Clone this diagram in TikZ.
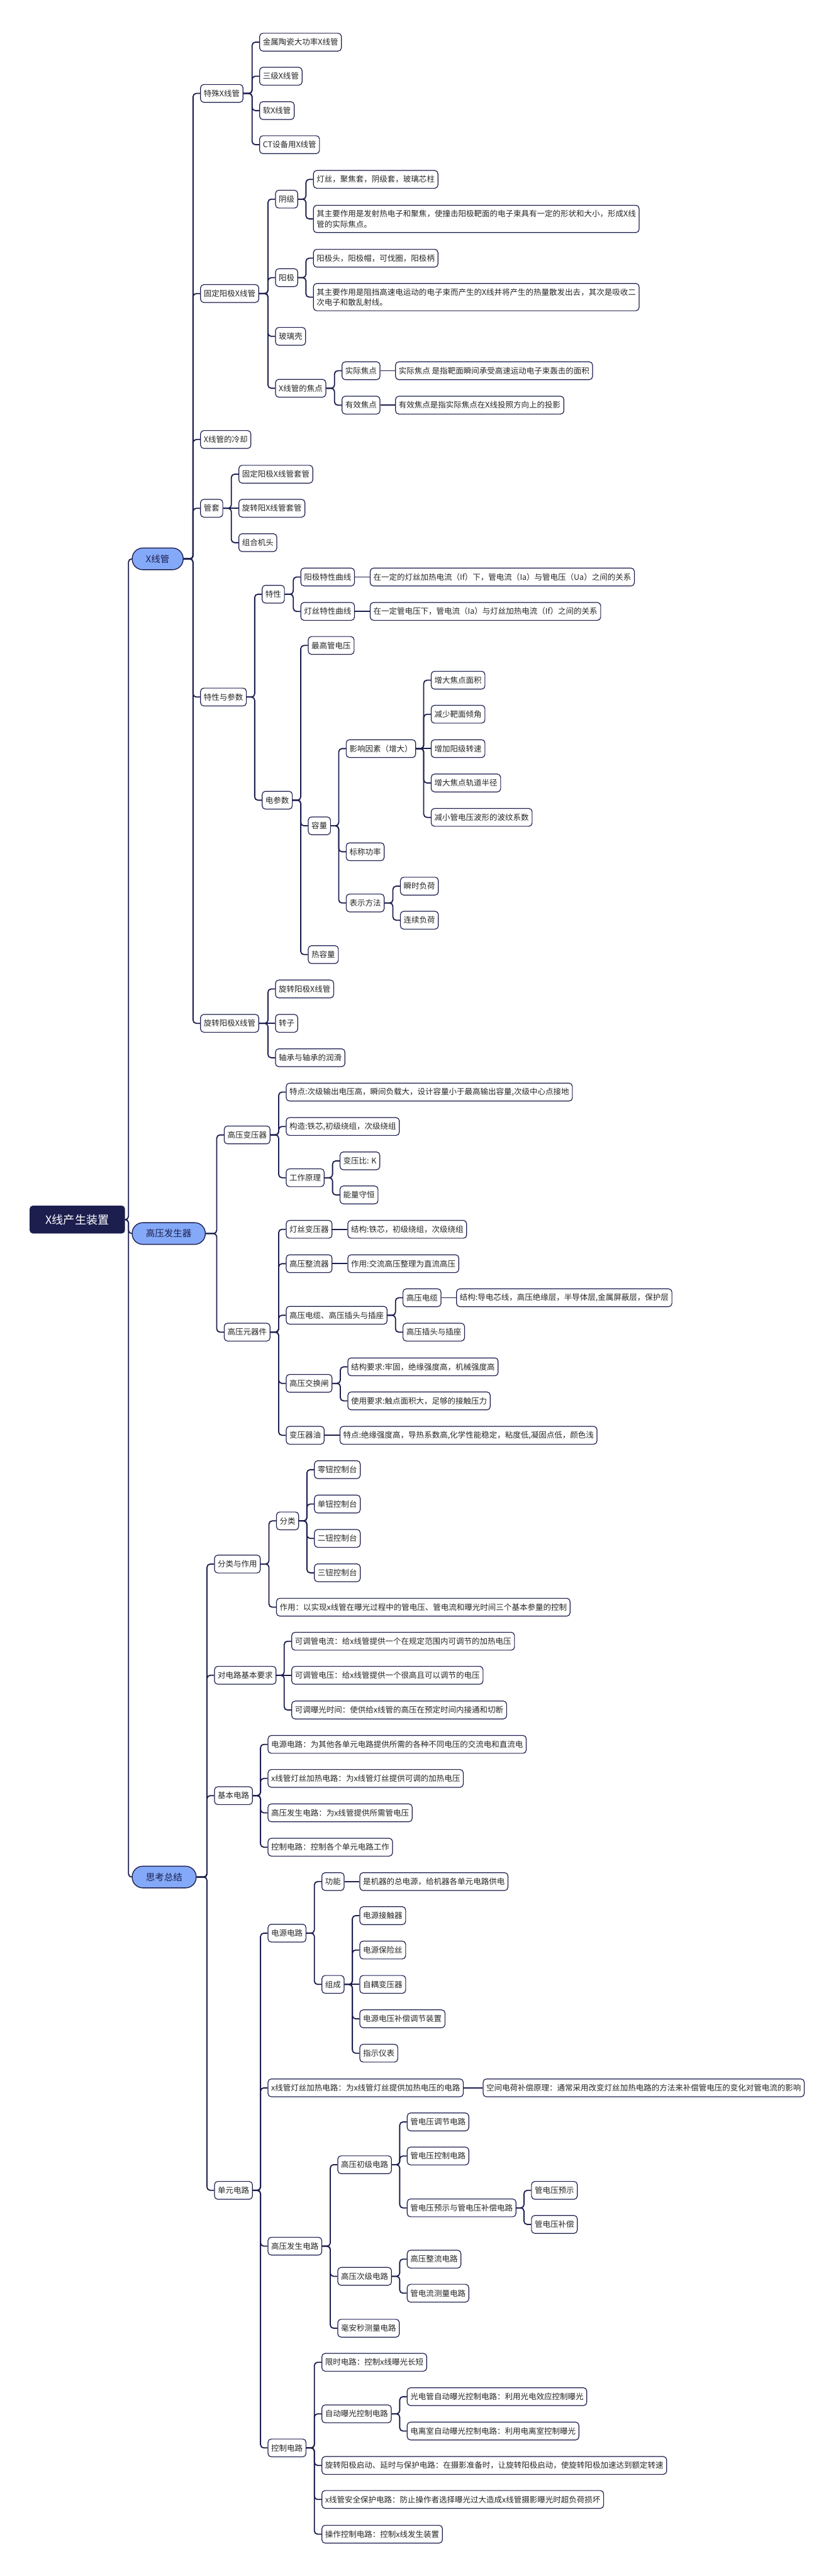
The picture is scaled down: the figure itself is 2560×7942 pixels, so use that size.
\documentclass[tikz,border=0pt]{standalone}
\usepackage{fontspec}
\setmainfont{Noto Sans CJK SC}
\usepackage{xcolor}
\usetikzlibrary{calc}
\definecolor{navy}{HTML}{1C1E4E}
\definecolor{pillblue}{HTML}{84A9F8}

\begin{document}
\begin{tikzpicture}[
  x=0.02cm, y=-0.02cm,
  font=\fontsize{13.8}{18}\selectfont,
  box/.style={rectangle, draw=navy, line width=1.3pt, rounded corners=0.2cm, fill=white,
              anchor=west, minimum height=1.1cm, inner xsep=0.2cm, text=black!85},
  pill/.style={rectangle, draw=navy, line width=1.5pt, rounded corners=0.66cm, fill=pillblue,
               anchor=west, minimum height=1.34cm, inner xsep=0.85cm, text=navy,
               font=\fontsize{16}{18}\selectfont},
  rootbox/.style={rectangle, rounded corners=0.2cm, fill=navy, text=white, anchor=west,
                  minimum width=5.88cm, minimum height=1.72cm, font=\fontsize{20}{22}\selectfont},
  link/.style={draw=navy, line width=2pt, rounded corners=0.2cm}
]
\fill[white] (0,0) rectangle (2560,7942);
\useasboundingbox (0,0) rectangle (2560,7942);

% Root and main branches
\node[rootbox] (xcs) at (91,3760) {X线产生装置};
\node[pill] (xg)   at (406,1723) {X线管};
\node[pill] (gyq)  at (406,3803) {高压发生器};
\node[pill] (skzj) at (406,5787) {思考总结};

% X线管
\node[box] (tsx) at (617,288)  {特殊X线管};
\node[box] (gdx) at (617,905)  {固定阳极X线管};
\node[box] (lq)  at (617,1355) {X线管的冷却};
\node[box] (gt)  at (617,1567) {管套};
\node[box] (tcs) at (617,2149) {特性与参数};
\node[box] (xzx) at (617,3155) {旋转阳极X线管};

\node[box] (jstc) at (799,130) {金属陶瓷大功率X线管};
\node[box] (sjx)  at (799,235) {三级X线管};
\node[box] (rx)   at (799,341) {软X线管};
\node[box] (ctx)  at (799,446) {CT设备用X线管};

\node[box] (yinj) at (848,614)  {阴级};
\node[box] (yanj) at (848,856)  {阳极};
\node[box] (blk)  at (848,1037) {玻璃壳};
\node[box] (jd)   at (848,1197) {X线管的焦点};

\node[box] (yinjgz) at (965,553) {灯丝，聚焦套，阴级套，玻璃芯柱};
\node[box, align=left, inner ysep=0.3cm] (yinjzy) at (965,675)
  {其主要作用是发射热电子和聚焦，使撞击阳极靶面的电子束具有一定的形状和大小，形成X线\\管的实际焦点。};
\node[box] (yanjgz) at (965,796) {阳极头，阳极帽，可伐圈，阳极柄};
\node[box, align=left, inner ysep=0.3cm] (yanjzy) at (965,916)
  {其主要作用是阻挡高速电运动的电子束而产生的X线并将产生的热量散发出去，其次是吸收二\\次电子和散乱射线。};

\node[box] (sjjd)  at (1053,1143) {实际焦点};
\node[box] (yxjd)  at (1053,1249) {有效焦点};
\node[box] (sjjds) at (1218,1143) {实际焦点 是指靶面瞬间承受高速运动电子束轰击的面积};
\node[box] (yxjds) at (1218,1249) {有效焦点是指实际焦点在X线投照方向上的投影};

\node[box] (gdtg) at (735,1462) {固定阳极X线管套管};
\node[box] (xztg) at (735,1567) {旋转阳X线管套管};
\node[box] (zhjt) at (735,1673) {组合机头};

\node[box] (tx)   at (807,1832) {特性};
\node[box] (dcs)  at (807,2467) {电参数};
\node[box] (yjtx) at (926,1779) {阳极特性曲线};
\node[box] (dstx) at (926,1885) {灯丝特性曲线};
\node[box] (yjtxs) at (1140,1779) {在一定的灯丝加热电流（If）下，管电流（Ia）与管电压（Ua）之间的关系};
\node[box] (dstxs) at (1140,1885) {在一定管电压下，管电流（Ia）与灯丝加热电流（If）之间的关系};

\node[box] (zggy) at (949,1990) {最高管电压};
\node[box] (rl)   at (949,2546) {容量};
\node[box] (rrl)  at (949,2943) {热容量};
\node[box] (yxys) at (1066,2308) {影响因素（增大）};
\node[box] (bcgl) at (1066,2626) {标称功率};
\node[box] (bsff) at (1066,2784) {表示方法};
\node[box] (zdmj) at (1328,2097) {增大焦点面积};
\node[box] (jsqj) at (1328,2202) {减少靶面倾角};
\node[box] (zjzs) at (1328,2308) {增加阳级转速};
\node[box] (zdbj) at (1328,2414) {增大焦点轨道半径};
\node[box] (jxbw) at (1328,2520) {减小管电压波形的波纹系数};
\node[box] (ssfh) at (1233,2732) {瞬时负荷};
\node[box] (lxfh) at (1233,2837) {连续负荷};

\node[box] (xzxg) at (848,3049) {旋转阳极X线管};
\node[box] (zz)   at (848,3155) {转子};
\node[box] (zcrh) at (848,3261) {轴承与轴承的润滑};

% 高压发生器
\node[box] (gybyq) at (690,3499) {高压变压器};
\node[box] (gyyqj) at (690,4107) {高压元器件};

\node[box] (bytd) at (881,3367) {特点:次级输出电压高，瞬间负载大，设计容量小于最高输出容量,次级中心点接地};
\node[box] (bygz) at (881,3473) {构造:铁芯,初级绕组，次级绕组};
\node[box] (gzyl) at (881,3631) {工作原理};
\node[box] (bybk) at (1047,3579) {变压比: K};
\node[box] (nlsh) at (1047,3684) {能量守恒};

\node[box] (dsbyq) at (881,3790) {灯丝变压器};
\node[box] (gyzlq) at (881,3896) {高压整流器};
\node[box] (gydl)  at (881,4055) {高压电缆、高压插头与插座};
\node[box] (gyjhz) at (881,4265) {高压交换闸};
\node[box] (byqy)  at (881,4425) {变压器油};

\node[box] (dsjg)  at (1071,3790) {结构:铁芯，初级绕组，次级绕组};
\node[box] (zlzy)  at (1071,3896) {作用:交流高压整理为直流高压};
\node[box] (dl)    at (1241,4001) {高压电缆};
\node[box] (ctcz)  at (1241,4107) {高压插头与插座};
\node[box] (dljg)  at (1406,4001) {结构:导电芯线，高压绝缘层，半导体层,金属屏蔽层，保护层};
\node[box] (jhjg)  at (1071,4214) {结构要求:牢固，绝缘强度高，机械强度高};
\node[box] (jhsy)  at (1071,4319) {使用要求:触点面积大，足够的接触压力};
\node[box] (yytd)  at (1047,4425) {特点:绝缘强度高，导热系数高,化学性能稳定，粘度低,凝固点低，颜色浅};

% 思考总结
\node[box] (flzy) at (660,4822) {分类与作用};
\node[box] (jbyq) at (660,5165) {对电路基本要求};
\node[box] (jbdl) at (660,5536) {基本电路};
\node[box] (dydl) at (660,6753) {单元电路};

\node[box] (fl)   at (851,4689) {分类};
\node[box] (zy)   at (851,4955) {作用：以实现x线管在曝光过程中的管电压、管电流和曝光时间三个基本参量的控制};
\node[box] (lnkt) at (968,4531) {零钮控制台};
\node[box] (dnkt) at (968,4637) {单钮控制台};
\node[box] (enkt) at (968,4743) {二钮控制台};
\node[box] (snkt) at (968,4849) {三钮控制台};

\node[box] (tgdl) at (898,5060) {可调管电流：给x线管提供一个在规定范围内可调节的加热电压};
\node[box] (tgdy) at (898,5165) {可调管电压：给x线管提供一个很高且可以调节的电压};
\node[box] (tbgs) at (898,5272) {可调曝光时间：使供给x线管的高压在预定时间内接通和切断};

\node[box] (jdy)  at (825,5378) {电源电路：为其他各单元电路提供所需的各种不同电压的交流电和直流电};
\node[box] (jds)  at (825,5483) {x线管灯丝加热电路：为x线管灯丝提供可调的加热电压};
\node[box] (jgy)  at (825,5589) {高压发生电路：为x线管提供所需管电压};
\node[box] (jkz)  at (825,5695) {控制电路：控制各个单元电路工作};

\node[box] (dydy) at (825,5960) {电源电路};
\node[box] (dyds) at (825,6437) {x线管灯丝加热电路：为x线管灯丝提供加热电压的电路};
\node[box] (dygy) at (825,6925) {高压发生电路};
\node[box] (dykz) at (825,7547) {控制电路};

\node[box] (gn)   at (991,5801) {功能};
\node[box] (zc)   at (991,6118) {组成};
\node[box] (gns)  at (1108,5801) {是机器的总电源，给机器各单元电路供电};
\node[box] (jcq)  at (1108,5906) {电源接触器};
\node[box] (bxs)  at (1108,6012) {电源保险丝};
\node[box] (zobyq) at (1108,6118) {自耦变压器};
\node[box] (bctj) at (1108,6224) {电源电压补偿调节装置};
\node[box] (zsyb) at (1108,6330) {指示仪表};
\node[box] (kjbc) at (1488,6437) {空间电荷补偿原理：通常采用改变灯丝加热电路的方法来补偿管电压的变化对管电流的影响};

\node[box] (cjdl) at (1040,6674) {高压初级电路};
\node[box] (cjdl2) at (1040,7018) {高压次级电路};
\node[box] (macl) at (1040,7178) {毫安秒测量电路};
\node[box] (tjdl) at (1254,6542) {管电压调节电路};
\node[box] (kzdl) at (1254,6647) {管电压控制电路};
\node[box] (ysbc) at (1254,6807) {管电压预示与管电压补偿电路};
\node[box] (gyys) at (1637,6753) {管电压预示};
\node[box] (gybc) at (1637,6858) {管电压补偿};
\node[box] (zldl) at (1254,6965) {高压整流电路};
\node[box] (dlcl) at (1254,7070) {管电流测量电路};

\node[box] (xsdl) at (991,7283) {限时电路：控制x线曝光长短};
\node[box] (zdbg) at (991,7442) {自动曝光控制电路};
\node[box] (gdg)  at (1254,7389) {光电管自动曝光控制电路：利用光电效应控制曝光};
\node[box] (dls)  at (1254,7495) {电离室自动曝光控制电路：利用电离室控制曝光};
\node[box] (xzqd) at (991,7601) {旋转阳极启动、延时与保护电路：在摄影准备时，让旋转阳极启动，使旋转阳极加速达到额定转速};
\node[box] (aqbh) at (991,7706) {x线管安全保护电路：防止操作者选择曝光过大造成x线管摄影曝光时超负荷损坏};
\node[box] (czkz) at (991,7813) {操作控制电路：控制x线发生装置};

% Root links
\draw[link] (xcs.east) -| ($(xg.west)+(-10,0)$) -- (xg.west);
\draw[link] (xcs.east) -| ($(gyq.west)+(-10,0)$) -- (gyq.west);
\draw[link] (xcs.east) -| ($(skzj.west)+(-10,0)$) -- (skzj.west);

% X线管 links
\draw[link] (xg.east) -| ($(tsx.west)+(-22,0)$) -- (tsx.west);
\draw[link] (xg.east) -| ($(gdx.west)+(-22,0)$) -- (gdx.west);
\draw[link] (xg.east) -| ($(lq.west)+(-22,0)$) -- (lq.west);
\draw[link] (xg.east) -| ($(gt.west)+(-22,0)$) -- (gt.west);
\draw[link] (xg.east) -| ($(tcs.west)+(-22,0)$) -- (tcs.west);
\draw[link] (xg.east) -| ($(xzx.west)+(-22,0)$) -- (xzx.west);

\draw[link] (tsx.east) -| ($(jstc.west)+(-22,0)$) -- (jstc.west);
\draw[link] (tsx.east) -| ($(sjx.west)+(-22,0)$) -- (sjx.west);
\draw[link] (tsx.east) -| ($(rx.west)+(-22,0)$) -- (rx.west);
\draw[link] (tsx.east) -| ($(ctx.west)+(-22,0)$) -- (ctx.west);

\draw[link] (gdx.east) -| ($(yinj.west)+(-22,0)$) -- (yinj.west);
\draw[link] (gdx.east) -| ($(yanj.west)+(-22,0)$) -- (yanj.west);
\draw[link] (gdx.east) -| ($(blk.west)+(-22,0)$) -- (blk.west);
\draw[link] (gdx.east) -| ($(jd.west)+(-22,0)$) -- (jd.west);
\draw[link] (yinj.east) -| ($(yinjgz.west)+(-22,0)$) -- (yinjgz.west);
\draw[link] (yinj.east) -| ($(yinjzy.west)+(-22,0)$) -- (yinjzy.west);
\draw[link] (yanj.east) -| ($(yanjgz.west)+(-22,0)$) -- (yanjgz.west);
\draw[link] (yanj.east) -| ($(yanjzy.west)+(-22,0)$) -- (yanjzy.west);
\draw[link] (jd.east) -| ($(sjjd.west)+(-22,0)$) -- (sjjd.west);
\draw[link] (jd.east) -| ($(yxjd.west)+(-22,0)$) -- (yxjd.west);
\draw[link] (sjjd.east) -- (sjjds.west);
\draw[link] (yxjd.east) -- (yxjds.west);

\draw[link] (gt.east) -| ($(gdtg.west)+(-22,0)$) -- (gdtg.west);
\draw[link] (gt.east) -- (xztg.west);
\draw[link] (gt.east) -| ($(zhjt.west)+(-22,0)$) -- (zhjt.west);

\draw[link] (tcs.east) -| ($(tx.west)+(-22,0)$) -- (tx.west);
\draw[link] (tcs.east) -| ($(dcs.west)+(-22,0)$) -- (dcs.west);
\draw[link] (tx.east) -| ($(yjtx.west)+(-22,0)$) -- (yjtx.west);
\draw[link] (tx.east) -| ($(dstx.west)+(-22,0)$) -- (dstx.west);
\draw[link] (yjtx.east) -- (yjtxs.west);
\draw[link] (dstx.east) -- (dstxs.west);
\draw[link] (dcs.east) -| ($(zggy.west)+(-22,0)$) -- (zggy.west);
\draw[link] (dcs.east) -| ($(rl.west)+(-22,0)$) -- (rl.west);
\draw[link] (dcs.east) -| ($(rrl.west)+(-22,0)$) -- (rrl.west);
\draw[link] (rl.east) -| ($(yxys.west)+(-22,0)$) -- (yxys.west);
\draw[link] (rl.east) -| ($(bcgl.west)+(-22,0)$) -- (bcgl.west);
\draw[link] (rl.east) -| ($(bsff.west)+(-22,0)$) -- (bsff.west);
\draw[link] (yxys.east) -| ($(zdmj.west)+(-22,0)$) -- (zdmj.west);
\draw[link] (yxys.east) -| ($(jsqj.west)+(-22,0)$) -- (jsqj.west);
\draw[link] (yxys.east) -- (zjzs.west);
\draw[link] (yxys.east) -| ($(zdbj.west)+(-22,0)$) -- (zdbj.west);
\draw[link] (yxys.east) -| ($(jxbw.west)+(-22,0)$) -- (jxbw.west);
\draw[link] (bsff.east) -| ($(ssfh.west)+(-22,0)$) -- (ssfh.west);
\draw[link] (bsff.east) -| ($(lxfh.west)+(-22,0)$) -- (lxfh.west);

\draw[link] (xzx.east) -| ($(xzxg.west)+(-22,0)$) -- (xzxg.west);
\draw[link] (xzx.east) -- (zz.west);
\draw[link] (xzx.east) -| ($(zcrh.west)+(-22,0)$) -- (zcrh.west);

% 高压发生器 links
\draw[link] (gyq.east) -| ($(gybyq.west)+(-22,0)$) -- (gybyq.west);
\draw[link] (gyq.east) -| ($(gyyqj.west)+(-22,0)$) -- (gyyqj.west);
\draw[link] (gybyq.east) -| ($(bytd.west)+(-22,0)$) -- (bytd.west);
\draw[link] (gybyq.east) -| ($(bygz.west)+(-22,0)$) -- (bygz.west);
\draw[link] (gybyq.east) -| ($(gzyl.west)+(-22,0)$) -- (gzyl.west);
\draw[link] (gzyl.east) -| ($(bybk.west)+(-22,0)$) -- (bybk.west);
\draw[link] (gzyl.east) -| ($(nlsh.west)+(-22,0)$) -- (nlsh.west);
\draw[link] (gyyqj.east) -| ($(dsbyq.west)+(-22,0)$) -- (dsbyq.west);
\draw[link] (gyyqj.east) -| ($(gyzlq.west)+(-22,0)$) -- (gyzlq.west);
\draw[link] (gyyqj.east) -| ($(gydl.west)+(-22,0)$) -- (gydl.west);
\draw[link] (gyyqj.east) -| ($(gyjhz.west)+(-22,0)$) -- (gyjhz.west);
\draw[link] (gyyqj.east) -| ($(byqy.west)+(-22,0)$) -- (byqy.west);
\draw[link] (dsbyq.east) -- (dsjg.west);
\draw[link] (gyzlq.east) -- (zlzy.west);
\draw[link] (gydl.east) -| ($(dl.west)+(-22,0)$) -- (dl.west);
\draw[link] (gydl.east) -| ($(ctcz.west)+(-22,0)$) -- (ctcz.west);
\draw[link] (dl.east) -- (dljg.west);
\draw[link] (gyjhz.east) -| ($(jhjg.west)+(-22,0)$) -- (jhjg.west);
\draw[link] (gyjhz.east) -| ($(jhsy.west)+(-22,0)$) -- (jhsy.west);
\draw[link] (byqy.east) -- (yytd.west);

% 思考总结 links
\draw[link] (skzj.east) -| ($(flzy.west)+(-22,0)$) -- (flzy.west);
\draw[link] (skzj.east) -| ($(jbyq.west)+(-22,0)$) -- (jbyq.west);
\draw[link] (skzj.east) -| ($(jbdl.west)+(-22,0)$) -- (jbdl.west);
\draw[link] (skzj.east) -| ($(dydl.west)+(-22,0)$) -- (dydl.west);
\draw[link] (flzy.east) -| ($(fl.west)+(-22,0)$) -- (fl.west);
\draw[link] (flzy.east) -| ($(zy.west)+(-22,0)$) -- (zy.west);
\draw[link] (fl.east) -| ($(lnkt.west)+(-22,0)$) -- (lnkt.west);
\draw[link] (fl.east) -| ($(dnkt.west)+(-22,0)$) -- (dnkt.west);
\draw[link] (fl.east) -| ($(enkt.west)+(-22,0)$) -- (enkt.west);
\draw[link] (fl.east) -| ($(snkt.west)+(-22,0)$) -- (snkt.west);
\draw[link] (jbyq.east) -| ($(tgdl.west)+(-22,0)$) -- (tgdl.west);
\draw[link] (jbyq.east) -- (tgdy.west);
\draw[link] (jbyq.east) -| ($(tbgs.west)+(-22,0)$) -- (tbgs.west);
\draw[link] (jbdl.east) -| ($(jdy.west)+(-22,0)$) -- (jdy.west);
\draw[link] (jbdl.east) -| ($(jds.west)+(-22,0)$) -- (jds.west);
\draw[link] (jbdl.east) -| ($(jgy.west)+(-22,0)$) -- (jgy.west);
\draw[link] (jbdl.east) -| ($(jkz.west)+(-22,0)$) -- (jkz.west);

\draw[link] (dydl.east) -| ($(dydy.west)+(-22,0)$) -- (dydy.west);
\draw[link] (dydl.east) -| ($(dyds.west)+(-22,0)$) -- (dyds.west);
\draw[link] (dydl.east) -| ($(dygy.west)+(-22,0)$) -- (dygy.west);
\draw[link] (dydl.east) -| ($(dykz.west)+(-22,0)$) -- (dykz.west);
\draw[link] (dydy.east) -| ($(gn.west)+(-22,0)$) -- (gn.west);
\draw[link] (dydy.east) -| ($(zc.west)+(-22,0)$) -- (zc.west);
\draw[link] (gn.east) -- (gns.west);
\draw[link] (zc.east) -| ($(jcq.west)+(-22,0)$) -- (jcq.west);
\draw[link] (zc.east) -| ($(bxs.west)+(-22,0)$) -- (bxs.west);
\draw[link] (zc.east) -- (zobyq.west);
\draw[link] (zc.east) -| ($(bctj.west)+(-22,0)$) -- (bctj.west);
\draw[link] (zc.east) -| ($(zsyb.west)+(-22,0)$) -- (zsyb.west);
\draw[link] (dyds.east) -- (kjbc.west);
\draw[link] (dygy.east) -| ($(cjdl.west)+(-22,0)$) -- (cjdl.west);
\draw[link] (dygy.east) -| ($(cjdl2.west)+(-22,0)$) -- (cjdl2.west);
\draw[link] (dygy.east) -| ($(macl.west)+(-22,0)$) -- (macl.west);
\draw[link] (cjdl.east) -| ($(tjdl.west)+(-22,0)$) -- (tjdl.west);
\draw[link] (cjdl.east) -| ($(kzdl.west)+(-22,0)$) -- (kzdl.west);
\draw[link] (cjdl.east) -| ($(ysbc.west)+(-22,0)$) -- (ysbc.west);
\draw[link] (ysbc.east) -| ($(gyys.west)+(-22,0)$) -- (gyys.west);
\draw[link] (ysbc.east) -| ($(gybc.west)+(-22,0)$) -- (gybc.west);
\draw[link] (cjdl2.east) -| ($(zldl.west)+(-22,0)$) -- (zldl.west);
\draw[link] (cjdl2.east) -| ($(dlcl.west)+(-22,0)$) -- (dlcl.west);
\draw[link] (dykz.east) -| ($(xsdl.west)+(-22,0)$) -- (xsdl.west);
\draw[link] (dykz.east) -| ($(zdbg.west)+(-22,0)$) -- (zdbg.west);
\draw[link] (dykz.east) -| ($(xzqd.west)+(-22,0)$) -- (xzqd.west);
\draw[link] (dykz.east) -| ($(aqbh.west)+(-22,0)$) -- (aqbh.west);
\draw[link] (dykz.east) -| ($(czkz.west)+(-22,0)$) -- (czkz.west);
\draw[link] (zdbg.east) -| ($(gdg.west)+(-22,0)$) -- (gdg.west);
\draw[link] (zdbg.east) -| ($(dls.west)+(-22,0)$) -- (dls.west);

\end{tikzpicture}
\end{document}
